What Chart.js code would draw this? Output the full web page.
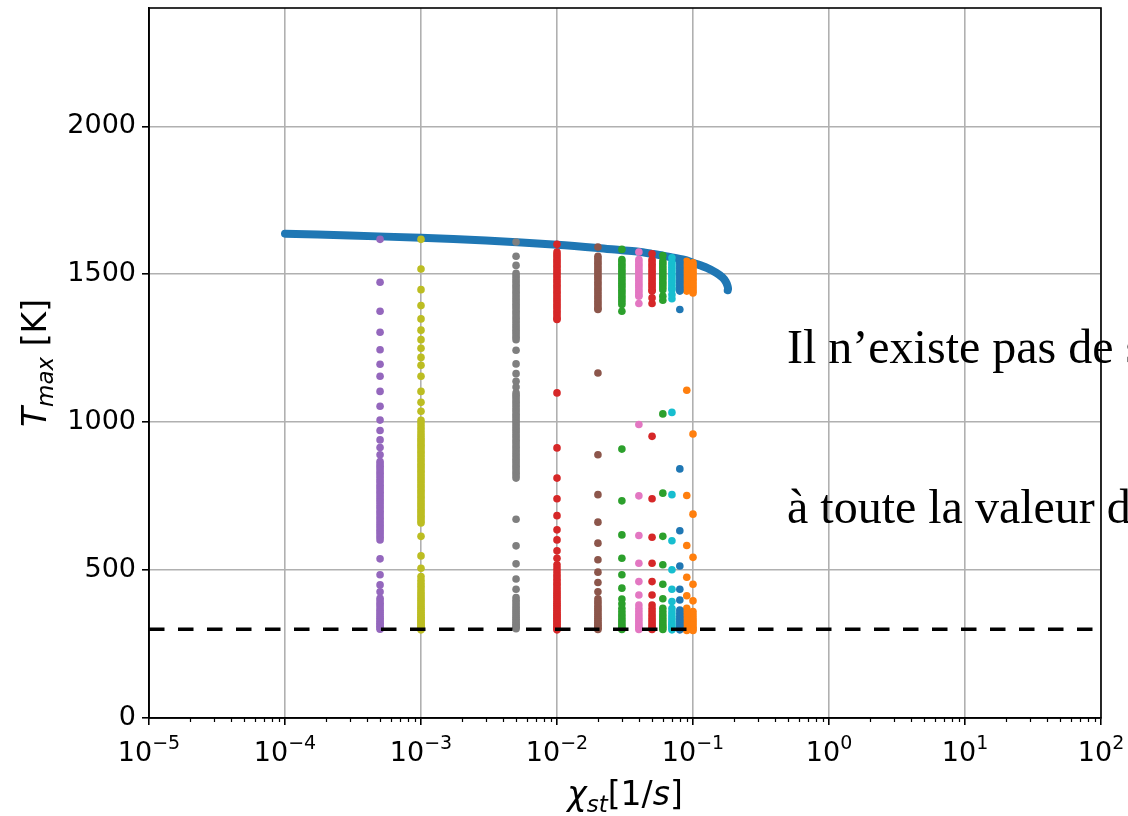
<!DOCTYPE html>
<html lang="fr">
<head>
  <meta charset="UTF-8" />
  <title>Tmax en fonction de chi_st</title>
  <script src="https://cdn.jsdelivr.net/npm/chart.js"></script>
  <style>
    html, body {
      margin: 0;
      padding: 0;
      background: #fff;
      overflow: hidden;
    }
    #cadre {
      position: relative;
      width: 1128px;
      height: 816px;
      overflow: hidden;
    }
    .note {
      position: absolute;
      left: 787px;
      font-family: 'Liberation Serif', 'Times New Roman', serif;
      font-size: 48px;
      line-height: 1;
      color: #000;
      white-space: nowrap;
    }
  </style>
</head>
<body>
  <div id="cadre">
    <canvas id="graphe" width="1128" height="816"></canvas>
    <div class="note" style="top:323px">Il n’existe pas de solution</div>
    <div class="note" style="top:483px">à toute la valeur de</div>
  </div>

  <script>
    // courbe S (branche haute)
    const chiCourbe = [1e-4, 3e-4, 1e-3, 3e-3, 1e-2, 2e-2, 3e-2, 4e-2, 5e-2, 6e-2, 7e-2, 9e-2, 0.1, 0.126, 0.148, 0.165, 0.174, 0.179, 0.181, 0.18];
    const tCourbe   = [1637, 1631, 1623, 1614, 1600, 1589, 1581, 1576, 1569, 1563, 1557, 1547, 1539, 1522, 1505, 1489, 1475, 1462, 1452, 1446];

    // colonnes de points (chi_st fixe)
    const chiColonnes = [5e-4, 1e-3, 5e-3, 1e-2, 2e-2, 3e-2, 4e-2, 5e-2, 6e-2, 7e-2, 8e-2, 9e-2, 1e-1];
    const couleurs = ['#9467bd', '#bcbd22', '#7f7f7f', '#d62728', '#8c564b', '#2ca02c', '#e377c2',
                      '#d62728', '#2ca02c', '#17becf', '#1f77b4', '#ff7f0e', '#ff7f0e'];

    const t_5e4 = [1618, 1473, 1375, 1304, 1245, 1196, 1155, 1104, 1054, 1007, 972, 940, 914, 890,
                   867, 859, 851, 843, 835, 827, 819, 811, 803, 795, 787, 779, 771, 763, 755, 747, 739, 731, 723,
                   715, 707, 699, 691, 683, 675, 667, 659, 651, 643, 635, 627, 619, 611, 602,
                   538, 484, 450, 427, 405, 396, 388, 380, 372, 364, 357, 350, 343, 337, 331, 325, 320, 315, 310, 305, 300];
    const t_1e3 = [1618, 1518, 1448, 1394, 1349, 1311, 1279, 1250, 1219, 1192, 1155, 1104, 1067, 1037,
                   1006, 995, 984, 974, 964, 955, 946, 938, 930, 922, 914, 906, 898, 890, 882, 874, 866, 858, 850,
                   842, 834, 826, 818, 810, 802, 794, 786, 778, 770, 762, 754, 746, 738, 730, 722, 714, 706, 698,
                   690, 682, 674, 666, 659, 614, 548, 506,
                   478, 466, 455, 445, 436, 427, 419, 411, 403, 396, 389, 382, 375, 369, 363, 357, 351, 345, 340,
                   335, 330, 325, 320, 315, 311, 307, 303, 298];
    const t_5e3 = [1609, 1561, 1530,
                   1503, 1495, 1487, 1479, 1471, 1463, 1455, 1447, 1439, 1431, 1423, 1415, 1407, 1399, 1391, 1383,
                   1375, 1367, 1359, 1351, 1343, 1335, 1327, 1319, 1311, 1303, 1295, 1287, 1279,
                   1243, 1197, 1164, 1138, 1119,
                   1099, 1091, 1083, 1075, 1067, 1059, 1051, 1043, 1035, 1027, 1019, 1011, 1003, 995, 987, 979, 971,
                   963, 955, 947, 939, 931, 923, 915, 907, 899, 891, 883, 875, 867, 859, 851, 843, 835, 827, 819, 811,
                   672, 582, 521, 470, 435,
                   407, 398, 390, 382, 374, 367, 360, 353, 346, 340, 334, 328, 322, 317, 312, 307, 302];
    const t_1e2 = [1601,
                   1575, 1567, 1559, 1551, 1543, 1535, 1527, 1519, 1511, 1503, 1495, 1487, 1479, 1471, 1463, 1455,
                   1447, 1439, 1431, 1423, 1415, 1407, 1399, 1391, 1383, 1375, 1367, 1359, 1351, 1347,
                   1099, 913, 811, 741, 684, 636, 602, 565, 540,
                   518, 507, 497, 487, 478, 469, 460, 452, 444, 436, 428, 421, 414, 407, 400, 393, 387, 381, 375,
                   369, 363, 357, 351, 346, 341, 336, 331, 326, 321, 316, 311, 306, 302, 298];
    const t_2e2 = [1592,
                   1561, 1553, 1545, 1537, 1529, 1521, 1513, 1505, 1497, 1489, 1481, 1473, 1465, 1457, 1449, 1441,
                   1433, 1425, 1417, 1409, 1401, 1393, 1385, 1381,
                   1166, 890, 755, 662, 591, 535, 493, 458, 427,
                   403, 394, 386, 378, 370, 363, 356, 349, 342, 336, 330, 324, 318, 313, 308, 303, 299];
    const t_3e2 = [1584,
                   1550, 1542, 1534, 1526, 1518, 1510, 1502, 1494, 1486, 1478, 1470, 1462, 1454, 1446, 1438, 1430,
                   1422, 1414, 1406, 1398, 1375,
                   909, 734, 619, 540, 484, 439,
                   402, 386, 371, 360, 350, 341, 333, 325, 318, 311, 305, 299];
    const t_4e2 = [1575,
                   1550, 1542, 1534, 1526, 1518, 1510, 1502, 1494, 1486, 1478, 1470, 1462, 1454, 1446, 1438, 1430,
                   1426, 1401,
                   992, 751, 617, 523, 461, 416,
                   382, 370, 360, 350, 341, 333, 325, 318, 311, 305, 299];
    const t_5e2 = [1569,
                   1550, 1542, 1534, 1526, 1518, 1510, 1502, 1494, 1486, 1478, 1470, 1462, 1454, 1446, 1443,
                   1420, 1401,
                   952, 741, 611, 523, 461, 416,
                   382, 370, 360, 350, 341, 333, 325, 318, 311, 305, 299];
    const t_6e2 = [1563,
                   1545, 1537, 1529, 1521, 1513, 1505, 1497, 1489, 1481, 1473, 1465, 1457, 1448,
                   1426, 1412,
                   1028, 760, 614, 518, 452, 403,
                   371, 360, 350, 341, 333, 325, 318, 311, 305, 299];
    const t_7e2 = [1556,
                   1540, 1532, 1524, 1516, 1508, 1500, 1492, 1484, 1476, 1468, 1460, 1452, 1448,
                   1431, 1417,
                   1033, 755, 599, 501, 435, 394,
                   370, 358, 348, 339, 331, 323, 316, 309, 303, 298];
    const t_8e2 = [1544, 1536, 1528, 1520, 1512, 1504, 1496, 1488, 1480, 1472, 1464, 1456, 1448, 1443,
                   1381,
                   842, 633, 514, 435, 399,
                   365, 354, 344, 335, 327, 319, 312, 305, 298];
    const t_9e2 = [1544, 1536, 1528, 1520, 1512, 1504, 1496, 1488, 1480, 1472, 1464, 1456, 1448, 1443,
                   1108, 752, 583, 476, 413,
                   371, 359, 349, 339, 330, 322, 314, 307, 301, 296];
    const t_1e1 = [1539, 1531, 1523, 1515, 1507, 1499, 1491, 1483, 1475, 1467, 1459, 1451, 1443, 1437,
                   960, 689, 543, 452, 396,
                   360, 349, 339, 330, 322, 314, 307, 301, 296];

    const tColonnes = [t_5e4, t_1e3, t_5e3, t_1e2, t_2e2, t_3e2, t_4e2, t_5e2, t_6e2, t_7e2, t_8e2, t_9e2, t_1e1];

    // ligne T = 300 K
    const tAmbiante = 300;

    // graduations
    const xDecades = [1e-5, 1e-4, 1e-3, 1e-2, 1e-1, 1e0, 1e1, 1e2];
    const xExposants = ['−5', '−4', '−3', '−2', '−1', '0', '1', '2'];
    const yGraduations = [0, 500, 1000, 1500, 2000];
    const yMax = 2400;

    const datasets = [];
    datasets.push({
      label: 'Tmax',
      data: chiCourbe.map((c, i) => ({ x: c, y: tCourbe[i] })),
      showLine: true,
      borderColor: '#1f77b4',
      borderWidth: 8,
      borderCapStyle: 'round',
      pointRadius: 0,
      tension: 0.3,
      order: 3
    });
    chiColonnes.forEach((c, i) => {
      datasets.push({
        label: 'chi = ' + c,
        data: tColonnes[i].map(t => ({ x: c, y: t })),
        backgroundColor: couleurs[i],
        borderWidth: 0,
        pointRadius: 3.8,
        pointHoverRadius: 3.8,
        order: 2
      });
    });
    datasets.push({
      label: 'T ambiante',
      data: [{ x: xDecades[0], y: tAmbiante }, { x: xDecades[xDecades.length - 1], y: tAmbiante }],
      showLine: true,
      borderColor: '#000',
      borderWidth: 3.5,
      borderDash: [15.5, 13.5],
      pointRadius: 0,
      order: 1
    });

    const police = '"DejaVu Sans"';

    const habillage = {
      id: 'habillage',
      afterDraw(chart) {
        const ctx = chart.ctx;
        const area = chart.chartArea;
        const sx = chart.scales.x;
        ctx.save();
        // cadre haut / droite
        ctx.strokeStyle = '#000';
        ctx.lineWidth = 1.6;
        ctx.strokeRect(area.left, area.top, area.right - area.left, area.bottom - area.top);
        // petites graduations log
        ctx.lineWidth = 1.2;
        ctx.beginPath();
        for (let d = 0; d < xDecades.length - 1; d++) {
          for (let k = 2; k <= 9; k++) {
            const px = Math.round(sx.getPixelForValue(k * xDecades[d])) + 0.5;
            ctx.moveTo(px, area.bottom);
            ctx.lineTo(px, area.bottom + 4);
          }
        }
        ctx.stroke();

        ctx.fillStyle = '#000';
        ctx.textBaseline = 'alphabetic';
        // etiquettes 10^n
        xDecades.forEach((v, i) => {
          ecrire(ctx, [
            { t: '10', f: '27px ' + police, dy: 0 },
            { t: xExposants[i], f: '19px ' + police, dy: -12 }
          ], sx.getPixelForValue(v), 761);
        });
        // titre x : chi_st[1/s]
        ecrire(ctx, [
          { t: 'χ', f: 'italic 33px ' + police, dy: 0 },
          { t: 'st', f: 'italic 23px ' + police, dy: 7 },
          { t: '[1/', f: '33px ' + police, dy: 0 },
          { t: 's', f: 'italic 33px ' + police, dy: 0 },
          { t: ']', f: '33px ' + police, dy: 0 }
        ], (area.left + area.right) / 2, 805);
        // titre y : T_max [K]
        ctx.translate(46, (area.top + area.bottom) / 2);
        ctx.rotate(-Math.PI / 2);
        ecrire(ctx, [
          { t: 'T', f: 'italic 33px ' + police, dy: 0 },
          { t: 'max', f: 'italic 23px ' + police, dy: 7 },
          { t: ' [K]', f: '33px ' + police, dy: 0 }
        ], 0, 0);
        ctx.restore();
      }
    };

    function ecrire(ctx, morceaux, cx, y) {
      let total = 0;
      morceaux.forEach(m => { ctx.font = m.f; total += ctx.measureText(m.t).width; });
      let x = cx - total / 2;
      morceaux.forEach(m => {
        ctx.font = m.f;
        ctx.fillText(m.t, x, y + m.dy);
        x += ctx.measureText(m.t).width;
      });
    }

    new Chart(document.getElementById('graphe').getContext('2d'), {
      type: 'scatter',
      data: { datasets: datasets },
      options: {
        responsive: false,
        animation: false,
        layout: { padding: { left: 0, right: 27, top: 8, bottom: 0 } },
        plugins: {
          legend: { display: false },
          tooltip: { enabled: false }
        },
        scales: {
          x: {
            type: 'logarithmic',
            min: xDecades[0],
            max: xDecades[xDecades.length - 1],
            afterBuildTicks: s => { s.ticks = xDecades.map(v => ({ value: v })); },
            afterFit: s => { s.height = 98; s.paddingLeft = 0; s.paddingRight = 0; },
            ticks: {
              autoSkip: false,
              maxRotation: 0,
              color: 'rgba(0,0,0,0)',
              font: { family: 'DejaVu Sans', size: 27 },
              callback: v => '10'
            },
            grid: {
              color: '#b0b0b0',
              lineWidth: 1.6,
              tickColor: '#000',
              tickLength: 7,
              tickWidth: 1.6
            },
            border: { color: '#000', width: 1.6 }
          },
          y: {
            min: 0,
            max: yMax,
            afterBuildTicks: s => { s.ticks = yGraduations.map(v => ({ value: v })); },
            afterFit: s => { s.width = 149; s.paddingTop = 0; s.paddingBottom = 0; },
            ticks: {
              padding: 6,
              color: '#000',
              font: { family: 'DejaVu Sans', size: 27 },
              callback: v => String(v)
            },
            grid: {
              color: '#b0b0b0',
              lineWidth: 1.6,
              tickColor: '#000',
              tickLength: 7,
              tickWidth: 1.6
            },
            border: { color: '#000', width: 1.6 }
          }
        }
      },
      plugins: [habillage]
    });
  </script>
</body>
</html>
